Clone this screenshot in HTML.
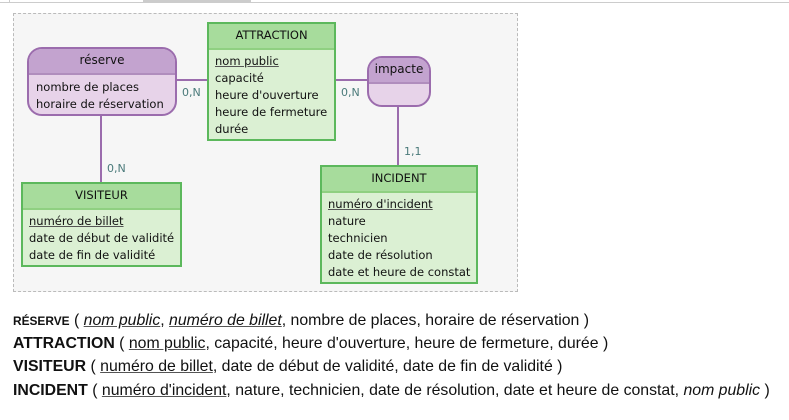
<!DOCTYPE html>
<html><head><meta charset="utf-8"><style>
body{margin:0;width:789px;height:420px;background:#fff;position:relative;overflow:hidden;font-family:"DejaVu Sans",Verdana,sans-serif}
.a{position:absolute;box-sizing:border-box}
.ent{border:2px solid #5cb85c;background:#dbf0d3}
.ent .h{background:#a7dc9c;border-bottom:2px solid #8fd081;text-align:center;font-size:11.5px;color:#111;height:24px;line-height:23px}
.rel{border:2px solid #9b6cad;background:#e7d3e9;border-radius:15px;overflow:hidden}
.rel .h{background:#c3a3cf;border-bottom:2px solid #b08dbd;text-align:center;font-size:12px;color:#111;height:24px;line-height:22px}
.b{font-size:11.5px;line-height:17px;color:#111;padding:3px 0 0 6px;white-space:nowrap}
u{text-decoration-color:#555}
.ln{position:absolute;background:#9b6cad}
.c{position:absolute;font-size:11px;color:#4a7a7a}
.t{position:absolute;left:13px;font-family:"Liberation Sans",Arial,sans-serif;font-size:16px;color:#111;white-space:nowrap;transform-origin:left;transform:scaleX(0.99)}
</style></head><body>
<div class="a" style="left:0;top:2px;width:789px;height:1px;background:#ccc"></div>
<div class="a" style="left:9px;top:0;width:1px;height:2px;background:#ccc"></div>
<div class="a" style="left:143px;top:0;width:108px;height:2px;background:#ccc"></div>
<div class="a" style="left:13px;top:13px;width:505px;height:279px;border:1px dashed #bbb;background:#f6f6f6"></div>
<div class="ln" style="left:176px;top:79px;width:32px;height:2px"></div>
<div class="ln" style="left:335px;top:79px;width:33px;height:2px"></div>
<div class="ln" style="left:100px;top:114px;width:2px;height:69px"></div>
<div class="ln" style="left:397px;top:105px;width:2px;height:61px"></div>
<div class="c" style="left:182px;top:86px">0,N</div>
<div class="c" style="left:341px;top:86px">0,N</div>
<div class="c" style="left:107px;top:162px">0,N</div>
<div class="c" style="left:404px;top:145px">1,1</div>
<div class="a rel" style="left:27px;top:47px;width:150px;height:69px"><div class="h">réserve</div><div class="b" style="padding-left:7px;padding-top:4px">nombre de places<br>horaire de réservation</div></div>
<div class="a ent" style="left:207px;top:22px;width:129px;height:119px"><div class="h">ATTRACTION</div><div class="b"><u>nom public</u><br>capacité<br>heure d'ouverture<br>heure de fermeture<br>durée</div></div>
<div class="a rel" style="left:367px;top:56px;width:64px;height:51px"><div class="h">impacte</div></div>
<div class="a ent" style="left:21px;top:182px;width:161px;height:85px"><div class="h">VISITEUR</div><div class="b"><u>numéro de billet</u><br>date de début de validité<br>date de fin de validité</div></div>
<div class="a ent" style="left:320px;top:165px;width:158px;height:119px"><div class="h">INCIDENT</div><div class="b"><u>numéro d'incident</u><br>nature<br>technicien<br>date de résolution<br>date et heure de constat</div></div>
<div class="t" style="top:312px"><b style="font-size:12px">RÉSERVE</b> ( <i><u>nom public</u></i>, <i><u>numéro de billet</u></i>, nombre de places, horaire de réservation )</div>
<div class="t" style="top:335px"><b>ATTRACTION</b> ( <u>nom public</u>, capacité, heure d'ouverture, heure de fermeture, durée )</div>
<div class="t" style="top:358px"><b>VISITEUR</b> ( <u>numéro de billet</u>, date de début de validité, date de fin de validité )</div>
<div class="t" style="top:382px"><b>INCIDENT</b> ( <u>numéro d'incident</u>, nature, technicien, date de résolution, date et heure de constat, <i>nom public</i> )</div>
</body></html>
